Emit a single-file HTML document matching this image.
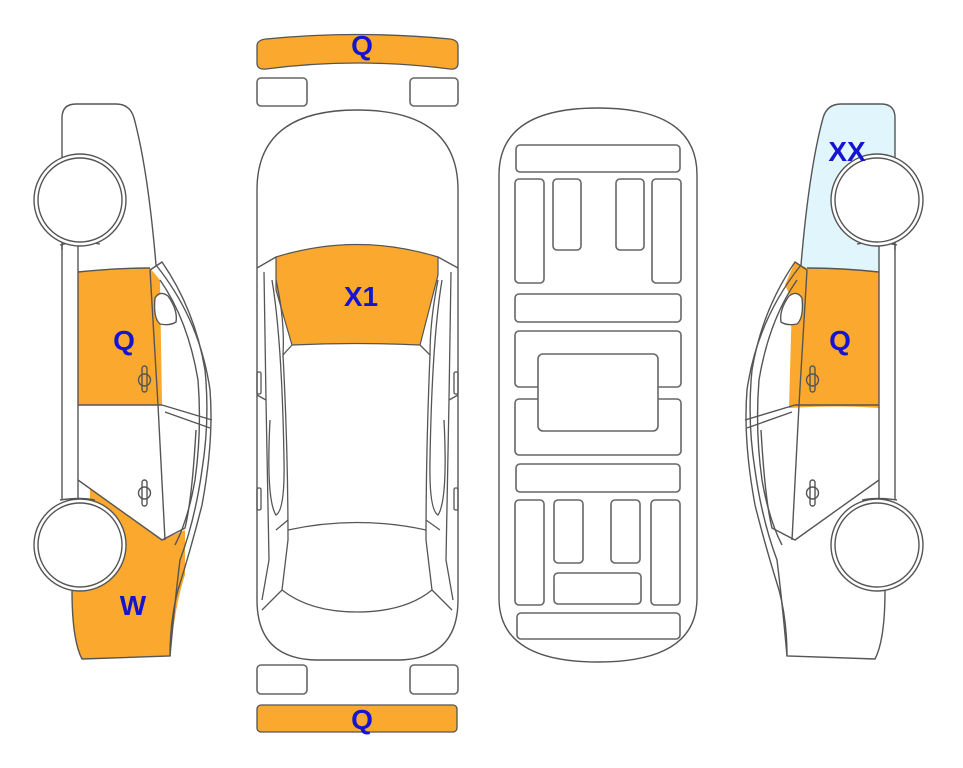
<!DOCTYPE html>
<html><head><meta charset="utf-8">
<style>
html,body{margin:0;padding:0;background:#fff;}
svg{display:block;}
text{font-family:"Liberation Sans",sans-serif;font-weight:bold;fill:#1414d2;font-size:28px;text-anchor:middle;}
</style></head><body>
<svg width="963" height="768" viewBox="0 0 963 768" xmlns="http://www.w3.org/2000/svg">
<defs>
<g id="side" fill="none" stroke="#555" stroke-width="1.4">
  <!-- outline -->
  <path d="M62,118 Q62,104 76,104 L116,104 Q130,104 134,118 Q148,170 156,265 Q200,320 210,390 Q214,440 202,505 Q192,545 178,590 Q170,620 170,656 L82,659 Q72,640 72,590"/>
  <path d="M62,118 L62,250"/>
  <path d="M62,245 L62,500 M78,245 L78,500"/>
  <path d="M60,245 Q80,240 100,244 M60,500 Q80,497 95,500"/>
  <!-- pillar / window curves -->
  <path d="M150,270 L162,262 Q195,310 205,370 Q210,420 202,470 Q195,520 180,560 Q175,600 170,656"/>
  <path d="M160,280 Q188,320 198,380 Q202,430 195,480 Q188,520 175,545"/>
  <!-- door lines -->
  <path d="M150,270 L158,405 L165,540"/>
  <path d="M162,405 L212,420 M165,412 L210,428"/>
  <path d="M78,480 L162,540 L185,528 Q192,500 196,430"/>
  <path d="M78,272 Q115,268 150,268"/>
  <path d="M78,405 L162,405"/>
  <!-- mirror -->
  <path d="M155,298 Q160,290 168,296 Q178,310 176,322 Q170,326 160,324 Q153,318 155,298 Z" fill="#fff"/>
  <!-- handles -->
  <rect x="142" y="366" width="5" height="26" rx="2.5"/><circle cx="144.5" cy="380" r="6"/>
  <rect x="142" y="480" width="5" height="26" rx="2.5"/><circle cx="144.5" cy="493" r="6"/>
  <!-- wheels -->
  <circle cx="80" cy="200" r="46" fill="#fff"/>
  <circle cx="80" cy="200" r="42" fill="#fff"/>
  <circle cx="80" cy="545" r="46" fill="#fff"/>
  <circle cx="80" cy="545" r="42" fill="#fff"/>
</g>
</defs>

<!-- LEFT CAR fills -->
<path d="M78,272 Q115,267 150,268 L160,280 L162,405 L78,405 Z" fill="#fba92e"/>
<path d="M90,488 L162,540 L185,530 L185,575 Q175,605 170,656 L82,659 Q72,640 72,590 L90,575 Z" fill="#fba92e"/>
<use href="#side"/>
<text x="124" y="350">Q</text>
<text x="133" y="615">W</text>

<!-- RIGHT CAR -->
<g transform="translate(957,0) scale(-1,1)">
  <path d="M62,118 Q62,104 76,104 L116,104 Q130,104 134,118 Q148,170 156,265 L150,270 Q115,268 78,272 L78,245 L62,245 Z" fill="#e1f6fc"/>
  <path d="M78,272 Q115,267 150,268 L162,262 Q168,275 172,285 L165,300 L168,408 Q120,405 78,408 Z" fill="#fba92e"/>
  <use href="#side"/>
</g>
<text x="847" y="161">XX</text>
<text x="840" y="350">Q</text>

<!-- TOP VIEW -->
<path d="M257,46 Q257,40 266,39 Q357,30 450,39 Q458,40 458,46 L458,63 Q458,70 450,69 Q357,57 266,69 Q257,70 257,63 Z" fill="#fba92e" stroke="#555" stroke-width="1.3"/>
<text x="362" y="55">Q</text>
<g fill="#fff" stroke="#666" stroke-width="1.6">
<rect x="257" y="78" width="50" height="28" rx="4"/>
<rect x="410" y="78" width="48" height="28" rx="4"/>
<rect x="257" y="665" width="50" height="29" rx="4"/>
<rect x="410" y="665" width="48" height="29" rx="4"/>
</g>
<path d="M257,190 Q257,110 357,110 Q458,110 458,190 L458,600 Q458,658 400,660 L315,660 Q257,658 257,600 Z" fill="#fff" stroke="#555" stroke-width="1.4"/>
<path d="M276,257 Q357,232 438,257 L438,275 L420,345 Q357,342 292,345 L276,290 Z" fill="#fba92e" stroke="#555" stroke-width="1.2"/>
<text x="361" y="306">X1</text>
<g fill="none" stroke="#555" stroke-width="1.3">
<path d="M257,268 L276,257 M458,268 L438,257"/>
<path d="M292,345 L283,355 Q288,450 288,540 L282,590 Q310,612 357,612 Q405,612 432,590 L426,540 Q426,450 430,355 L420,345"/>
<path d="M288,530 Q357,515 426,530"/>
<path d="M276,280 Q285,320 283,355 M438,280 Q430,320 430,355"/>
<path d="M264,272 L266,400 L269,560 L262,600 M451,272 L449,400 L446,560 L453,600"/>
<path d="M272,280 Q282,340 284,460 Q285,510 276,515 Q266,500 270,420 M442,280 Q432,340 430,460 Q429,510 438,515 Q448,500 444,420"/>
<path d="M257,395 L266,400 M458,395 L449,400 M276,530 L288,520 M440,530 L426,520"/>
<path d="M282,590 L262,610 M432,590 L452,610"/>
<rect x="257" y="372" width="4" height="22" rx="1.5"/><rect x="454" y="372" width="4" height="22" rx="1.5"/>
<rect x="257" y="488" width="4" height="22" rx="1.5"/><rect x="454" y="488" width="4" height="22" rx="1.5"/>
</g>
<rect x="257" y="705" width="200" height="27" rx="4" fill="#fba92e" stroke="#555" stroke-width="1.3"/>
<text x="362" y="729">Q</text>

<!-- UNDERSIDE -->
<path d="M499,175 Q499,108 598,108 Q697,108 697,175 L697,598 Q697,662 598,662 Q499,662 499,598 Z" fill="#fff" stroke="#555" stroke-width="1.4"/>
<g fill="#fff" stroke="#666" stroke-width="1.6">
<rect x="516" y="145" width="164" height="27" rx="4"/>
<rect x="515" y="179" width="29" height="104" rx="4"/>
<rect x="553" y="179" width="28" height="71" rx="4"/>
<rect x="616" y="179" width="28" height="71" rx="4"/>
<rect x="652" y="179" width="29" height="104" rx="4"/>
<rect x="515" y="294" width="166" height="28" rx="4"/>
<rect x="515" y="331" width="166" height="56" rx="4"/>
<rect x="515" y="399" width="166" height="56" rx="4"/>
<rect x="538" y="354" width="120" height="77" rx="5"/>
<rect x="516" y="464" width="164" height="28" rx="4"/>
<rect x="515" y="500" width="29" height="105" rx="4"/>
<rect x="554" y="500" width="29" height="63" rx="4"/>
<rect x="611" y="500" width="29" height="63" rx="4"/>
<rect x="651" y="500" width="29" height="105" rx="4"/>
<rect x="554" y="573" width="87" height="31" rx="4"/>
<rect x="517" y="613" width="163" height="26" rx="4"/>
</g>
</svg>
</body></html>
